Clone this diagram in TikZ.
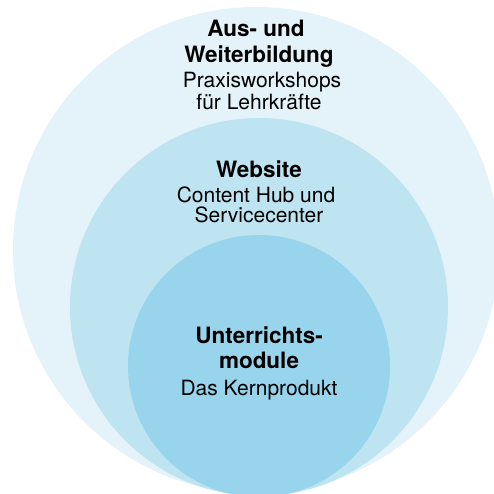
\documentclass[tikz,border=0pt]{standalone}
\usepackage{fontspec}
\setmainfont{TeX Gyre Heros}
\definecolor{ringouter}{RGB}{227,243,249}
\definecolor{ringmid}{RGB}{190,228,241}
\definecolor{ringinner}{RGB}{152,212,235}
\begin{document}
\begin{tikzpicture}[x=1pt,y=-1pt,
  head/.style={anchor=base,inner sep=0pt,font=\fontsize{22.5}{26}\selectfont\bfseries},
  sub/.style={anchor=base,inner sep=0pt,font=\fontsize{21}{24}\selectfont}]
  \useasboundingbox (0,0) rectangle (494,493);
  \clip (0,0) rectangle (494,493);
  % three nested rings, all touching the bottom edge
  \fill[ringouter] (256,250) circle[radius=243];
  \fill[ringmid]   (259,307) circle[radius=189];
  \fill[ringinner] (259,366) circle[radius=131];
  % outer ring labels
  \node[head] (t1a) at (256,36) {Aus- und};
  \node[head] (t1b) at (259,62) {Weiterbildung};
  \node[sub]  (s1a) at (262,87) {Praxisworkshops};
  \node[sub]  (s1b) at (259,109) {für Lehrkräfte};
  % middle ring labels
  \node[head] (t2a) at (259,177) {Website};
  \node[sub]  (s2a) at (256,202) {Content Hub und};
  \node[sub]  (s2b) at (259,222) {Servicecenter};
  % inner ring labels
  \node[head] (t3a) at (259,343) {Unterrichts-};
  \node[head] (t3b) at (259,368) {module};
  \node[sub]  (s3a) at (259,395) {Das Kernprodukt};
\end{tikzpicture}
\end{document}
